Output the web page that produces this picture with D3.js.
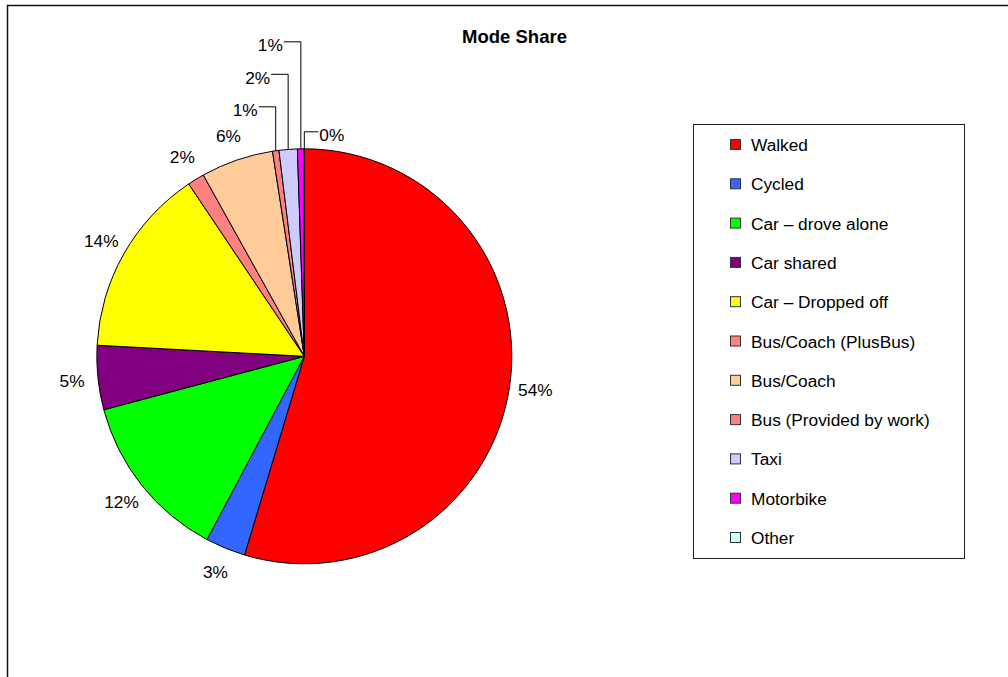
<!DOCTYPE html>
<html><head><meta charset="utf-8">
<script src="https://cdn.jsdelivr.net/npm/d3@7"></script>
<style>
html,body{margin:0;padding:0;background:#fff;}
svg{display:block;font-family:"Liberation Sans",Arial,sans-serif;}
</style></head>
<body><div id="chart"></div>
<script>
const categories = ["Walked","Cycled","Car \u2013 drove alone","Car shared","Car \u2013 Dropped off","Bus/Coach (PlusBus)","Bus/Coach","Bus (Provided by work)","Taxi","Motorbike","Other"];
const shares = [54.65,3.12,13.08,5.0,14.75,1.31,5.64,0.5,1.42,0.53,0.0];
const pctLabels = ["54%","3%","12%","5%","14%","2%","6%","1%","2%","1%","0%"];
const colors = ["#FF0000","#3366FF","#00FF00","#800080","#FFFF00","#FF8080","#FFCC99","#FF8080","#CCCCFF","#FF00FF","#CCFFFF"];
const leaderSlices = ["Bus (Provided by work)","Taxi","Motorbike","Other"];
const title = "Mode Share";

const W=1008,H=677;
const svg=d3.select("#chart").append("svg").attr("width",W).attr("height",H);
svg.append("path").attr("d",`M7.5,${H+2}V5.5H${W+2}`).attr("fill","none").attr("stroke","#111").attr("stroke-width",1.5);

svg.append("text").attr("x",514.5).attr("y",43).attr("text-anchor","middle")
  .attr("font-weight","bold").attr("font-size",18.5).text(title);

const cx=304.3, cy=356.3, r=207.5;
const data=categories.map((c,i)=>({name:c,value:shares[i],label:pctLabels[i],color:colors[i]}));
const pie=d3.pie().sort(null).value(d=>d.value);
const arcs=pie(data);
const arc=d3.arc().innerRadius(0).outerRadius(r);
const g=svg.append("g").attr("transform",`translate(${cx},${cy})`);
g.selectAll("path.slice").data(arcs).join("path").attr("class","slice")
  .attr("d",arc).attr("fill",d=>d.data.color).attr("stroke","#000").attr("stroke-width",1);

const fs=17.3;
const labelArc=d3.arc().innerRadius(r+26).outerRadius(r+26);
g.selectAll("text.lbl").data(arcs.filter(a=>!leaderSlices.includes(a.data.name))).join("text")
  .attr("class","lbl").attr("font-size",fs).attr("text-anchor","middle").attr("dy","0.35em")
  .attr("transform",d=>`translate(${labelArc.centroid(d)})`).text(d=>d.data.label);

const lead=arcs.filter(a=>leaderSlices.includes(a.data.name));
let leftIdx=0;
lead.forEach(a=>{
  const mid=(a.startAngle+a.endAngle)/2;
  const x0=r*Math.sin(mid), y0=-r*Math.cos(mid);
  const onRight = a.value===0;
  let ly, x1, tx, anchor;
  if(onRight){
    ly=-r-17; x1=x0+14; tx=x1+1; anchor="start";
  } else {
    ly=-r-42-leftIdx*32.5; leftIdx++;
    x1=x0-17; tx=x1-1; anchor="end";
  }
  g.append("path").attr("d",`M${x0},${y0}L${x0},${ly}L${x1},${ly}`)
   .attr("fill","none").attr("stroke","#000").attr("stroke-width",1);
  g.append("text").attr("x",tx).attr("y",ly+3.3).attr("dy","0.35em").attr("font-size",fs)
   .attr("text-anchor",anchor).text(a.data.label);
});

const lg=svg.append("g");
lg.append("rect").attr("x",693.5).attr("y",124.5).attr("width",271).attr("height",434)
  .attr("fill","#fff").attr("stroke","#222").attr("stroke-width",1);
const ly=d3.scalePoint().domain(categories).range([145,538]);
const items=lg.selectAll("g.item").data(data).join("g").attr("class","item")
  .attr("transform",d=>`translate(0,${ly(d.name)})`);
items.append("rect").attr("x",730.5).attr("y",-5.5).attr("width",10).attr("height",10)
  .attr("fill",d=>d.color).attr("stroke","#333").attr("stroke-width",1);
items.append("text").attr("x",751).attr("dy","0.35em").attr("font-size",fs).text(d=>d.name);
</script>
</body></html>
